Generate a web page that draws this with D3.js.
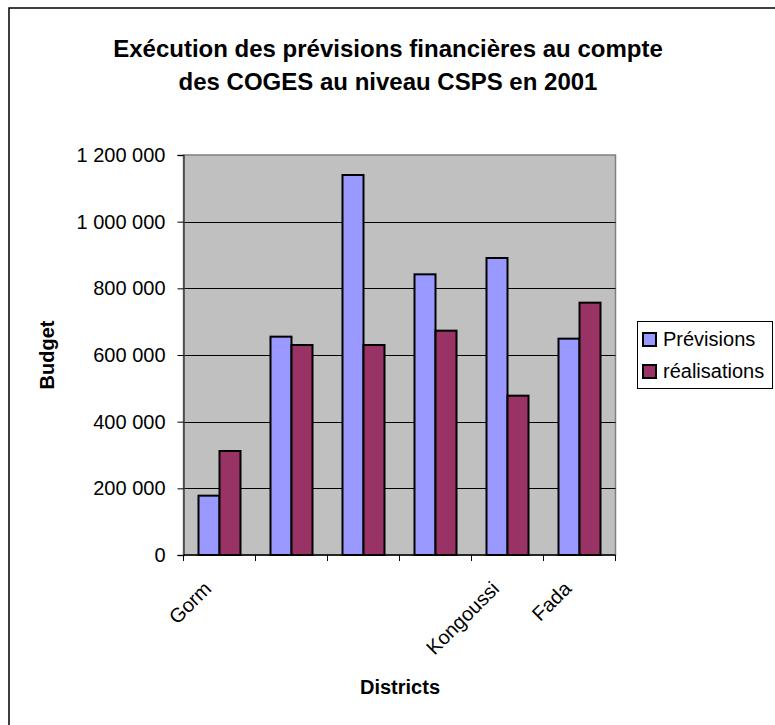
<!DOCTYPE html>
<html>
<head>
<meta charset="utf-8">
<script src="https://cdn.jsdelivr.net/npm/d3@7"></script>
<style>
	body { margin: 0; background: #fff; }
	text { font-family: Arial, "Liberation Sans", sans-serif; }
</style>
</head>
<body>
<svg width="775" height="725"></svg>
<script>
// data
var districts = ["Gorm", "", "", "", "Kongoussi", "Fada"];
var previsions = [178000, 655000, 1140000, 842000, 891000, 649000];
var realisations = [312000, 630000, 630000, 673000, 478000, 757000];
var seriesNames = ["Prévisions", "réalisations"];
var seriesColors = ["#9999FF", "#993366"];
var yTicks = [0, 200000, 400000, 600000, 800000, 1000000, 1200000];

var svg = d3.select("svg");
var plotLeft = 183.5, plotRight = 615.5, plotTop = 155, plotBottom = 555;

var fr = d3.formatLocale({decimal: ",", thousands: " ", grouping: [3], currency: ["", ""]});
var fmt = fr.format(",");

// outer chart border (goes past the window on the right and bottom)
svg.append("rect")
	.attr("x", 9)
	.attr("y", 8)
	.attr("width", 820)
	.attr("height", 800)
	.attr("fill", "white")
	.attr("stroke", "black")
	.attr("stroke-width", 1.5);

// title
var title = svg.append("text")
	.attr("text-anchor", "middle")
	.attr("font-size", "24px")
	.attr("font-weight", "bold");
title.append("tspan").attr("x", 388).attr("y", 57).text("Exécution des prévisions financières au compte");
title.append("tspan").attr("x", 388).attr("y", 90).text("des COGES au niveau CSPS en 2001");

var idx = d3.range(districts.length);

var x0 = d3.scaleBand()
	.domain(idx)
	.range([plotLeft, plotRight])
	.paddingInner(0.4167)
	.paddingOuter(0.2083);

var xb = d3.scaleBand()
	.domain(idx)
	.range([plotLeft, plotRight]);

var x1 = d3.scaleBand()
	.domain([0, 1])
	.range([0, x0.bandwidth()]);

var y = d3.scaleLinear()
	.domain([0, 1200000])
	.range([plotBottom, plotTop]);

// plot area
svg.append("rect")
	.attr("x", plotLeft)
	.attr("y", plotTop)
	.attr("width", plotRight - plotLeft)
	.attr("height", plotBottom - plotTop)
	.attr("fill", "#C0C0C0")
	.attr("stroke", "#808080")
	.attr("stroke-width", 1.5);

// gridlines
svg.append("g")
	.selectAll("line")
	.data(yTicks.slice(1, -1))
	.enter()
	.append("line")
	.attr("x1", plotLeft)
	.attr("x2", plotRight)
	.attr("y1", function(d) { return Math.round(y(d)) + 0.5; })
	.attr("y2", function(d) { return Math.round(y(d)) + 0.5; })
	.attr("stroke", "black")
	.attr("stroke-width", 1);

// bars
var rows = idx.map(function(i) { return [previsions[i], realisations[i]]; });

var groups = svg.append("g")
	.selectAll("g")
	.data(rows)
	.enter()
	.append("g")
	.attr("transform", function(d, i) { return "translate(" + x0(i) + ",0)"; });

groups.selectAll("rect")
	.data(function(d) { return d; })
	.enter()
	.append("rect")
	.attr("x", function(d, j) { return x1(j); })
	.attr("y", function(d) { return y(d); })
	.attr("width", x1.bandwidth())
	.attr("height", function(d) { return plotBottom - y(d); })
	.attr("fill", function(d, j) { return seriesColors[j]; })
	.attr("stroke", "black")
	.attr("stroke-width", 2);

// y axis
var yAxis = svg.append("g")
	.attr("transform", "translate(" + plotLeft + ",0)")
	.call(d3.axisLeft(y).tickValues(yTicks).tickFormat(fmt).tickSize(6).tickPadding(12));
yAxis.select(".domain").attr("stroke", "#404040").attr("stroke-width", 1.5);
yAxis.selectAll("text").attr("font-size", "20px").attr("font-family", "Arial, 'Liberation Sans', sans-serif").attr("fill", "black");

// x axis: ticks at category borders
var xAxis = svg.append("g");
xAxis.append("line")
	.attr("x1", plotLeft)
	.attr("x2", plotRight)
	.attr("y1", plotBottom)
	.attr("y2", plotBottom)
	.attr("stroke", "black")
	.attr("stroke-width", 1.5);
xAxis.selectAll("line.tick")
	.data(idx.concat([districts.length]))
	.enter()
	.append("line")
	.attr("class", "tick")
	.attr("x1", function(i) { return i < districts.length ? xb(i) : plotRight; })
	.attr("x2", function(i) { return i < districts.length ? xb(i) : plotRight; })
	.attr("y1", plotBottom)
	.attr("y2", plotBottom + 6)
	.attr("stroke", "black");

xAxis.selectAll("text")
	.data(idx)
	.enter()
	.append("text")
	.attr("transform", function(i) {
		return "translate(" + (x0(i) + x0.bandwidth() / 2 - 7) + "," + (plotBottom + 35) + ") rotate(-45)";
	})
	.attr("text-anchor", "end")
	.attr("font-size", "20px")
	.text(function(i) { return districts[i]; });

// axis titles
svg.append("text")
	.attr("transform", "translate(54,355) rotate(-90)")
	.attr("text-anchor", "middle")
	.attr("font-size", "20px")
	.attr("font-weight", "bold")
	.text("Budget");

svg.append("text")
	.attr("x", 400)
	.attr("y", 694)
	.attr("text-anchor", "middle")
	.attr("font-size", "20px")
	.attr("font-weight", "bold")
	.text("Districts");

// legend
var legend = svg.append("g");
legend.append("rect")
	.attr("x", 637.5)
	.attr("y", 321.5)
	.attr("width", 135)
	.attr("height", 67)
	.attr("fill", "white")
	.attr("stroke", "black");

var items = legend.selectAll("g")
	.data(seriesNames)
	.enter()
	.append("g")
	.attr("transform", function(d, i) { return "translate(643," + (333 + i * 32) + ")"; });

items.append("rect")
	.attr("width", 13)
	.attr("height", 13)
	.attr("fill", function(d, i) { return seriesColors[i]; })
	.attr("stroke", "black")
	.attr("stroke-width", 2);

items.append("text")
	.attr("x", 20)
	.attr("y", 13)
	.attr("font-size", "20px")
	.text(function(d) { return d; });
</script>
</body>
</html>
